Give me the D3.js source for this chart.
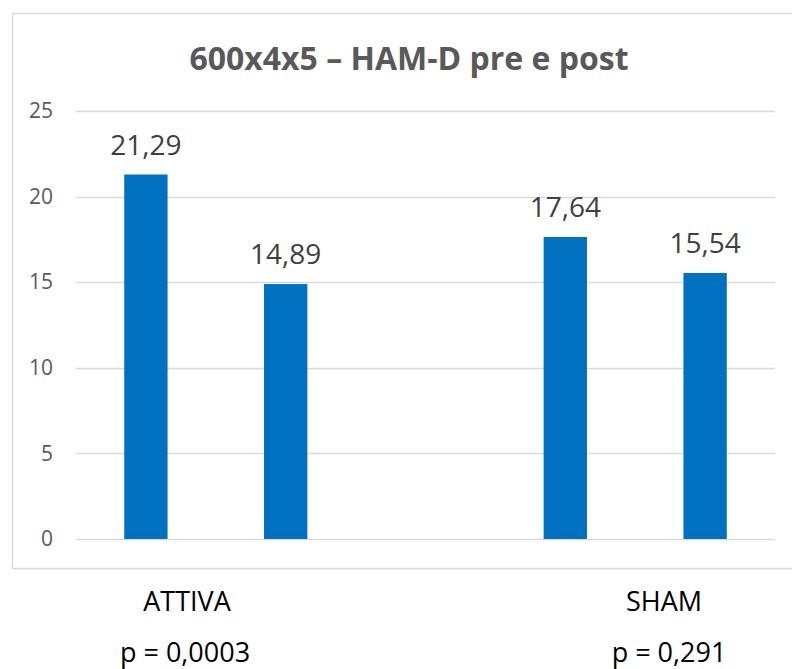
<!DOCTYPE html>
<html>
<head>
<meta charset="utf-8">
<script src="https://cdn.jsdelivr.net/npm/d3@7"></script>
<style>
  html, body { margin: 0; padding: 0; background: #fff; }
  svg { display: block; }
</style>
</head>
<body>
<svg id="chart" width="792" height="669"></svg>
<script>
// HAM-D scores before and after treatment, two arms; the middle slot is a spacer
const slots = ["attiva-pre", "attiva-post", "gap", "sham-pre", "sham-post"];
const barSlots = ["attiva-pre", "attiva-post", "sham-pre", "sham-post"];
const barValues = [21.29, 14.89, 17.64, 15.54];
const yTicks = [0, 5, 10, 15, 20, 25];
const groupNames = ["ATTIVA", "SHAM"];
const pLabels = ["p = 0,0003", "p = 0,291"];
const titleText = "600x4x5 – HAM-D pre e post";

const svg = d3.select("#chart");
const font = "'Open Sans', 'Noto Sans', sans-serif";

// outer chart frame (extends past the right edge)
svg.append("rect")
  .attr("x", 12.5).attr("y", 13.5)
  .attr("width", 800).attr("height", 555)
  .attr("fill", "#fff")
  .attr("stroke", "#d9d9d9").attr("stroke-width", 1.5);

const plot = { left: 76, right: 775, top: 111, bottom: 539 };

const x = d3.scaleBand()
  .domain(slots)
  .range([plot.left, plot.right])
  .paddingInner(0.69).paddingOuter(0.345);

const y = d3.scaleLinear()
  .domain([0, 25])
  .range([plot.bottom, plot.top]);

// horizontal gridlines
svg.append("g")
  .selectAll("line")
  .data(yTicks)
  .join("line")
  .attr("x1", plot.left).attr("x2", plot.right)
  .attr("y1", d => Math.round(y(d)) + 0.5)
  .attr("y2", d => Math.round(y(d)) + 0.5)
  .attr("stroke", "#d9d9d9").attr("stroke-width", 1.3);

// y axis labels
const yAxis = d3.axisLeft(y).tickValues(yTicks).tickSize(0).tickPadding(0);
const gy = svg.append("g").attr("transform", "translate(53,0)").call(yAxis);
gy.select(".domain").remove();
gy.selectAll("text")
  .attr("font-family", font).attr("font-size", 21)
  .attr("fill", "#595959");

const data = barSlots.map((s, i) => ({ slot: s, value: barValues[i] }));

// bars
svg.append("g")
  .selectAll("rect")
  .data(data)
  .join("rect")
  .attr("x", d => x(d.slot))
  .attr("width", x.bandwidth())
  .attr("y", d => y(d.value))
  .attr("height", d => y(0) - y(d.value))
  .attr("fill", "#0070c0");

// value labels
const fmt = v => d3.format(".2f")(v).replace(".", ",");
svg.append("g")
  .selectAll("text")
  .data(data)
  .join("text")
  .attr("x", d => x(d.slot) + x.bandwidth() / 2)
  .attr("y", d => y(d.value) - 20)
  .attr("text-anchor", "middle")
  .attr("font-family", font).attr("font-size", 28)
  .attr("fill", "#404040")
  .text(d => fmt(d.value));

// title
svg.append("text")
  .attr("x", 409).attr("y", 70)
  .attr("text-anchor", "middle")
  .attr("font-family", font).attr("font-size", 32).attr("font-weight", "bold")
  .attr("fill", "#595959")
  .text(titleText);

// group names and p-values below the frame
const groupX = [187, 664];
const pX = [185, 669];
svg.append("g")
  .selectAll("text")
  .data(groupNames)
  .join("text")
  .attr("x", (d, i) => groupX[i]).attr("y", 611)
  .attr("text-anchor", "middle")
  .attr("font-family", font).attr("font-size", 27)
  .attr("fill", "#000")
  .text(d => d);

svg.append("g")
  .selectAll("text")
  .data(pLabels)
  .join("text")
  .attr("x", (d, i) => pX[i]).attr("y", 662)
  .attr("text-anchor", "middle")
  .attr("font-family", font).attr("font-size", 27)
  .attr("fill", "#000")
  .text(d => d);
</script>
</body>
</html>
